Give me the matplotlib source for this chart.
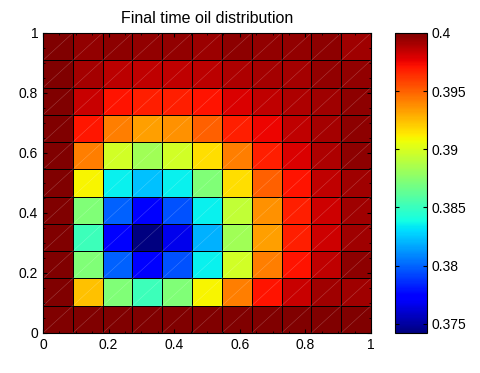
import numpy as np
import matplotlib
matplotlib.use("Agg")
import matplotlib.pyplot as plt
from matplotlib.collections import LineCollection

plt.rcParams['font.family'] = ['Liberation Sans', 'DejaVu Sans']

# oil saturation per cell, rows listed from top (y=1) to bottom (y=0)
oil_rows = [
    [0.4000, 0.39953, 0.39964, 0.39953, 0.39953, 0.39930, 0.39964, 0.39953, 0.39953, 0.39969, 0.39928],
    [0.4000, 0.39917, 0.39868, 0.39857, 0.39857, 0.39868, 0.39892, 0.39917, 0.39917, 0.39953, 0.39953],
    [0.4000, 0.39830, 0.39711, 0.39680, 0.39680, 0.39716, 0.39793, 0.39857, 0.39892, 0.39928, 0.39964],
    [0.4000, 0.39700, 0.39419, 0.39331, 0.39373, 0.39505, 0.39680, 0.39755, 0.39857, 0.39917, 0.39964],
    [0.4000, 0.39419, 0.38975, 0.38823, 0.38975, 0.39156, 0.39419, 0.39680, 0.39793, 0.39892, 0.39964],
    [0.4000, 0.39097, 0.38349, 0.38228, 0.38349, 0.38723, 0.39156, 0.39505, 0.39716, 0.39857, 0.39928],
    [0.4000, 0.38723, 0.37985, 0.37704, 0.37945, 0.38349, 0.38924, 0.39373, 0.39680, 0.39822, 0.39928],
    [0.4000, 0.38509, 0.37704, 0.37430, 0.37665, 0.38188, 0.38823, 0.39331, 0.39680, 0.39822, 0.39928],
    [0.4000, 0.38723, 0.37985, 0.37704, 0.37945, 0.38349, 0.38975, 0.39419, 0.39711, 0.39857, 0.39964],
    [0.4000, 0.39244, 0.38723, 0.38509, 0.38723, 0.39097, 0.39419, 0.39711, 0.39830, 0.39928, 0.39928],
    [0.4000, 0.39995, 0.39995, 0.39995, 0.39995, 0.39990, 0.39990, 0.39990, 0.39990, 0.39990, 0.39990],
]
x_ticks = [0, 0.2, 0.4, 0.6, 0.8, 1]
cbar_ticks = [0.375, 0.38, 0.385, 0.39, 0.395, 0.4]
cbar_labels = ['0.375', '0.38', '0.385', '0.39', '0.395', '0.4']

C = np.array(oil_rows)[::-1]
ny, nx = C.shape
xe = np.linspace(0, 1, nx + 1)
ye = np.linspace(0, 1, ny + 1)

fig = plt.figure(figsize=(4.8, 3.73), dpi=100)
ax = fig.add_axes([43 / 480, 40 / 373, 328 / 480, 300 / 373])
cax = fig.add_axes([395 / 480, 40 / 373, 32 / 480, 300 / 373])

mesh = ax.pcolormesh(xe, ye, C, cmap='jet', vmin=0.3742, vmax=0.4,
                     edgecolors='k', linewidth=0.6)

# faint diagonals from the triangulated patches
segs = [[(xe[i], ye[j]), (xe[i + 1], ye[j + 1])] for i in range(nx) for j in range(ny)]
ax.add_collection(LineCollection(segs, colors='white', linewidths=0.4, alpha=0.25))

ax.set_xlim(0, 1)
ax.set_ylim(0, 1)
ax.set_xticks(x_ticks)
ax.set_yticks(x_ticks)
ax.set_xticklabels([f'{t:g}' for t in x_ticks])
ax.set_yticklabels([f'{t:g}' for t in x_ticks])
ax.minorticks_on()
ax.tick_params(which='both', direction='in', top=True, right=True, labelsize=10)
ax.tick_params(which='major', length=3)
ax.tick_params(which='minor', length=1.5)
ax.set_title('Final time oil distribution', fontsize=11.5, pad=7)

cb = fig.colorbar(mesh, cax=cax)
cb.set_ticks(cbar_ticks)
cb.set_ticklabels(cbar_labels)
cb.ax.tick_params(direction='in', left=True, right=True, length=3, labelsize=10)
cb.outline.set_linewidth(0.8)

fig.savefig('out.png', dpi=100)
